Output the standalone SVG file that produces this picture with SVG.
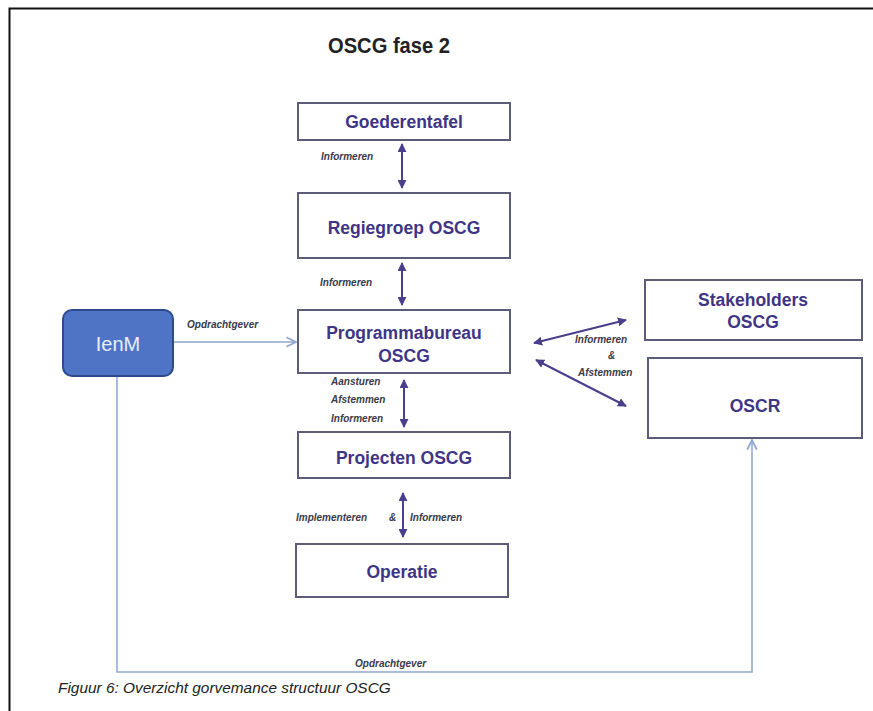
<svg xmlns="http://www.w3.org/2000/svg" width="873" height="711" viewBox="0 0 873 711">
<style>
.box{fill:#fff;stroke:#5c5c78;stroke-width:2}
.nt{font-family:"Liberation Sans",Arial,sans-serif;font-weight:bold;font-size:17.5px;fill:#3e3585;text-anchor:middle}
.lbl{font-family:"Liberation Sans",Arial,sans-serif;font-style:italic;font-weight:bold;font-size:10px;fill:#3a3a4a}
.va{stroke:#4a3f8c;stroke-width:2;fill:none;marker-start:url(#ah);marker-end:url(#ah)}
.bl{stroke:#8fa6cf;stroke-width:1.5;fill:none}
</style>
<defs>
<marker id="ah" viewBox="0 0 10 10" refX="9" refY="5" markerWidth="4.5" markerHeight="4.5" orient="auto-start-reverse">
<path d="M0,0 L10,5 L0,10 z" fill="#4a3f8c"/>
</marker>
<marker id="ob" viewBox="0 0 10 10" refX="9" refY="5" markerWidth="8" markerHeight="8" orient="auto">
<path d="M1,1 L9,5 L1,9" fill="none" stroke="#8fa6cf" stroke-width="1.5"/>
</marker>
</defs>
<rect width="873" height="711" fill="#fff"/>
<path d="M9.5,711 V8.5 H873" fill="none" stroke="#111" stroke-width="2"/>
<text x="328" y="53" textLength="122" lengthAdjust="spacingAndGlyphs" font-family="'Liberation Sans',Arial,sans-serif" font-weight="bold" font-size="22" fill="#222">OSCG fase 2</text>

<g id="connectors">
<line class="va" x1="402" y1="144" x2="402" y2="188"/>
<line class="va" x1="402" y1="263" x2="402" y2="305"/>
<line class="va" x1="404" y1="380" x2="404" y2="427"/>
<line class="va" x1="403" y1="493" x2="403" y2="537"/>
<line class="va" x1="534" y1="343" x2="626" y2="320"/>
<line class="va" x1="536" y1="360" x2="626" y2="406"/>
<line class="bl" x1="173" y1="342" x2="296" y2="342" marker-end="url(#ob)"/>
<path class="bl" d="M117,376 V672 H752 V440" marker-end="url(#ob)"/>
<text class="lbl" x="321" y="160">Informeren</text>
<text class="lbl" x="320" y="286">Informeren</text>
<text class="lbl" x="331" y="385">Aansturen</text>
<text class="lbl" x="331" y="403">Afstemmen</text>
<text class="lbl" x="331" y="422">Informeren</text>
<text class="lbl" x="296" y="521">Implementeren</text>
<text class="lbl" x="389" y="521">&amp;</text>
<text class="lbl" x="410" y="521">Informeren</text>
<text class="lbl" x="187" y="328">Opdrachtgever</text>
<text class="lbl" x="355" y="667">Opdrachtgever</text>
<text class="lbl" x="575" y="343">Informeren</text>
<text class="lbl" x="608" y="359">&amp;</text>
<text class="lbl" x="578" y="376">Afstemmen</text>
</g>

<g id="goederentafel">
<rect class="box" x="298" y="103" width="212" height="37"/>
<text class="nt" x="404" y="128">Goederentafel</text>
</g>
<g id="regiegroep">
<rect class="box" x="298" y="193" width="212" height="65"/>
<text class="nt" x="404" y="234">Regiegroep OSCG</text>
</g>
<g id="programmabureau">
<rect class="box" x="298" y="310" width="212" height="63"/>
<text class="nt" x="404" y="339">Programmabureau</text>
<text class="nt" x="404" y="362">OSCG</text>
</g>
<g id="projecten">
<rect class="box" x="298" y="432" width="212" height="46"/>
<text class="nt" x="404" y="464">Projecten OSCG</text>
</g>
<g id="operatie">
<rect class="box" x="296" y="544" width="212" height="53"/>
<text class="nt" x="402" y="578">Operatie</text>
</g>
<g id="ienm">
<rect x="63" y="310" width="110" height="66" rx="9" ry="9" fill="#4f74c6" stroke="#2c4a8c" stroke-width="2"/>
<text x="118" y="351" font-family="'Liberation Sans',Arial,sans-serif" font-size="20" fill="#e8eefa" text-anchor="middle">IenM</text>
</g>
<g id="stakeholders">
<rect class="box" x="645" y="280" width="217" height="60"/>
<text class="nt" x="753" y="306">Stakeholders</text>
<text class="nt" x="753" y="328">OSCG</text>
</g>
<g id="oscr">
<rect class="box" x="648" y="358" width="214" height="80"/>
<text class="nt" x="755" y="412">OSCR</text>
</g>
<text x="58" y="693" font-family="'Liberation Sans',Arial,sans-serif" font-style="italic" font-size="15.4" fill="#222">Figuur 6: Overzicht gorvemance structuur OSCG</text>
</svg>
